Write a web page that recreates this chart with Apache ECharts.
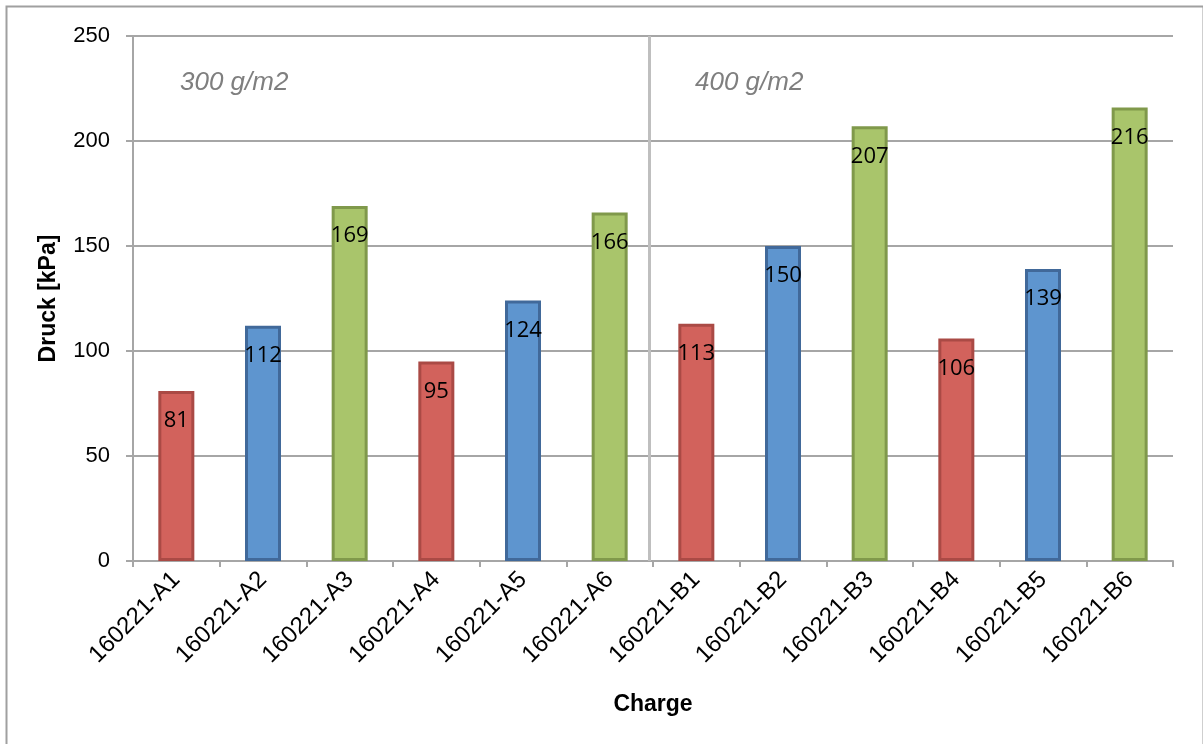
<!DOCTYPE html>
<html><head><meta charset="utf-8">
<script src="https://cdn.jsdelivr.net/npm/echarts@6/dist/echarts.min.js"></script>
<style>html,body{margin:0;padding:0;background:#fff}#c{width:1203px;height:744px}</style>
</head><body><div id="c"></div>
<script>
var categories = ['160221-A1','160221-A2','160221-A3','160221-A4','160221-A5','160221-A6','160221-B1','160221-B2','160221-B3','160221-B4','160221-B5','160221-B6'];
var values = [81,112,169,95,124,166,113,150,207,106,139,216];
var yTicks = [0,50,100,150,200,250];
var groupLabels = ['300 g/m2','400 g/m2'];
var groupSplit = 6;

var fills = ['#d2625c','#5e95cf','#a9c56b'];
var borders = ['#aa4a45','#41699a','#80994b'];

var barData = values.map(function(v,i){
  return {value:v, itemStyle:{color:fills[i%3], borderColor:borders[i%3]}};
});

var chart = echarts.init(document.getElementById('c'));
chart.setOption({
  animation:false,
  backgroundColor:'#fff',
  grid:{left:133,right:30,top:36,bottom:183},
  xAxis:[{
    type:'category', data:categories,
    name:'Charge', nameLocation:'middle', nameGap:132,
    nameTextStyle:{fontFamily:'Liberation Sans',fontWeight:'bold',fontSize:23,color:'#000'},
    axisLine:{lineStyle:{color:'#a6a6a6',width:2}},
    axisTick:{show:true,length:6,lineStyle:{color:'#a6a6a6',width:2}},
    axisLabel:{rotate:45,fontFamily:'Liberation Sans',fontSize:24,color:'#000',margin:15,interval:0}
  },{
    type:'value', min:0, max:categories.length, show:false
  }],
  yAxis:{
    type:'value', min:yTicks[0], max:yTicks[yTicks.length-1], interval:yTicks[1]-yTicks[0],
    name:'Druck [kPa]', nameLocation:'middle', nameGap:73,
    nameTextStyle:{fontFamily:'Liberation Sans',fontWeight:'bold',fontSize:23,color:'#000'},
    axisLine:{show:true,lineStyle:{color:'#a6a6a6',width:2}},
    axisTick:{show:true,length:7,lineStyle:{color:'#a6a6a6',width:2}},
    axisLabel:{fontFamily:'Liberation Sans',fontSize:22,color:'#000',margin:23},
    splitLine:{lineStyle:{color:'#a6a6a6',width:2}}
  },
  series:[{
    type:'bar', data:barData, barWidth:36,
    itemStyle:{borderWidth:3},
    label:{show:true,position:'insideTop',distance:19,fontFamily:'Open Sans',fontSize:22,color:'#000'}
  },{
    type:'scatter', xAxisIndex:1, yAxisIndex:0, data:[], silent:true,
    markLine:{
      silent:true, symbol:['none','none'],
      lineStyle:{color:'#bfbfbf',width:3,type:'solid'},
      label:{show:false},
      data:[[{coord:[groupSplit-0.04,yTicks[0]]},{coord:[groupSplit-0.04,yTicks[yTicks.length-1]]}]]
    }
  }],
  graphic:[
    {type:'rect',left:4,top:4,shape:{width:1197,height:760},style:{fill:'none',stroke:'#a0a0a0',lineWidth:2},z:-1},
    {type:'text',left:180,top:70,style:{text:groupLabels[0],font:'italic 26px "Liberation Sans"',fill:'#7f7f7f'}},
    {type:'text',left:695,top:70,style:{text:groupLabels[1],font:'italic 26px "Liberation Sans"',fill:'#7f7f7f'}}
  ]
});
</script></body></html>
